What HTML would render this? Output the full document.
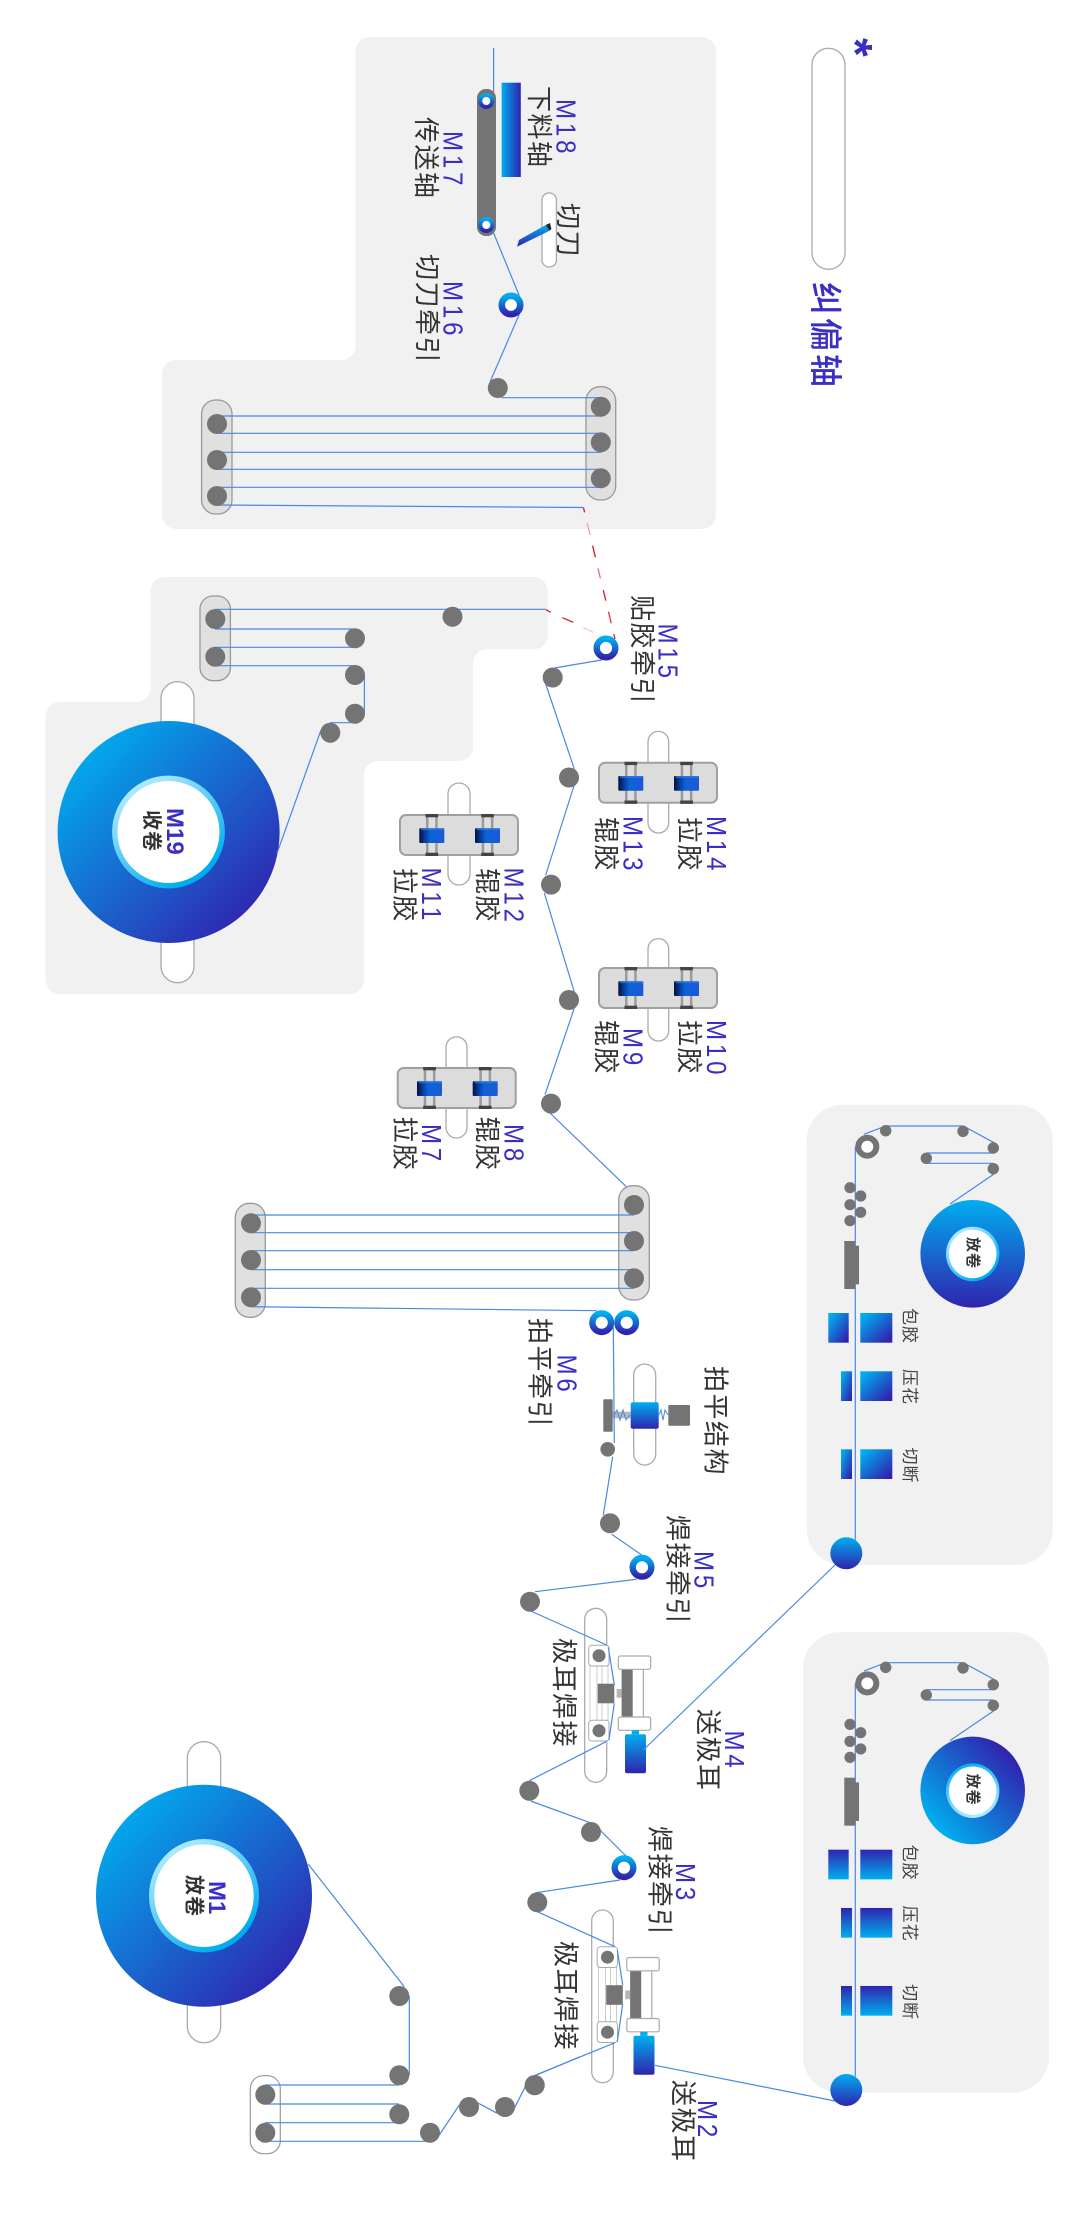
<!DOCTYPE html>
<html lang="zh"><head><meta charset="utf-8"><title>Process diagram</title>
<style>
html,body{margin:0;padding:0;background:#fff}
svg{display:block}
.m{font:28px "Liberation Sans","Noto Sans CJK SC",sans-serif;fill:#3a2ec4;letter-spacing:4.5px}
.c{font:26px "Liberation Sans","Noto Sans CJK SC",sans-serif;fill:#333;letter-spacing:1.5px}
.s{font:17px "Liberation Sans","Noto Sans CJK SC",sans-serif;fill:#444;letter-spacing:1px}
.b{font:bold 20px "Liberation Sans","Noto Sans CJK SC",sans-serif;fill:#333;letter-spacing:1px}
.bm{font:bold 24px "Liberation Sans","Noto Sans CJK SC",sans-serif;fill:#3a2ec4}
.t{font:bold 15px "Liberation Sans","Noto Sans CJK SC",sans-serif;fill:#333;letter-spacing:1px}
.ln{fill:none;stroke:#4a88e3;stroke-width:1.2}
.pl{fill:#fff;stroke:#aaa;stroke-width:1.3}
.gp{fill:#e0e0e0;stroke:#999;stroke-width:1.3}
.r{fill:#747474}
</style></head><body>
<svg xmlns="http://www.w3.org/2000/svg" width="1080" height="2216" viewBox="0 0 1080 2216">
<defs>
<linearGradient id="gd" x1="0.1" y1="0.1" x2="0.9" y2="0.9"><stop offset="0" stop-color="#00aeef"/><stop offset="1" stop-color="#3023ae"/></linearGradient>
<linearGradient id="gv" x1="0" y1="0" x2="0" y2="1"><stop offset="0" stop-color="#00aeef"/><stop offset="1" stop-color="#3023ae"/></linearGradient>
<linearGradient id="gf" x1="0" y1="0" x2="0" y2="1"><stop offset="0" stop-color="#3023ae"/><stop offset="1" stop-color="#00aeef"/></linearGradient>
<linearGradient id="gh" x1="0" y1="0" x2="1" y2="0"><stop offset="0" stop-color="#00aeef"/><stop offset="1" stop-color="#3023ae"/></linearGradient>
<linearGradient id="gb" x1="0.15" y1="0.85" x2="0.85" y2="0.15"><stop offset="0" stop-color="#00aeef"/><stop offset="1" stop-color="#3023ae"/></linearGradient>
<linearGradient id="ri" x1="0.15" y1="0.1" x2="0.7" y2="0.9"><stop offset="0" stop-color="#b4ecff"/><stop offset="1" stop-color="#00aeef"/></linearGradient>
<linearGradient id="rf" x1="0.3" y1="0" x2="0.6" y2="1"><stop offset="0" stop-color="#00aeef"/><stop offset="1" stop-color="#b4ecff"/></linearGradient>
<linearGradient id="gx" x1="0" y1="0" x2="1" y2="0"><stop offset="0" stop-color="#02123f"/><stop offset=".3" stop-color="#0a48b4"/><stop offset=".45" stop-color="#0d62d8"/><stop offset="1" stop-color="#1c58d4"/></linearGradient>
<g id="rm">
<rect x="1" y="1" width="118" height="40" rx="6" fill="#dcdcdc" stroke="#a0a0a0" stroke-width="2"/>
<g id="sc"><rect x="27" y="0" width="11.700" height="42" fill="#9a9a9a"/><rect x="29.500" y="0" width="6.700" height="42" fill="#dedede"/><rect x="26.500" y="0" width="12.700" height="3.300" fill="#444"/><rect x="26.500" y="38.700" width="12.700" height="3.300" fill="#444"/><rect x="20.300" y="14.200" width="25" height="14.800" rx="1" fill="url(#gx)"/><rect x="22" y="14.200" width="23.300" height="2" fill="#2f7fe6" opacity=".7"/></g>
<use href="#sc" x="55.700"/>
</g>
<g id="wu">
<rect x="590" y="1660" width="18" height="65" fill="#fff" stroke="#ccc" stroke-width="1"/>
<line x1="597" y1="1660" x2="597" y2="1725" stroke="#ccc"/><line x1="602" y1="1660" x2="602" y2="1725" stroke="#ccc"/>
<rect x="588.700" y="1645.300" width="20.300" height="20.700" rx="3" fill="#fff" stroke="#aaa"/>
<rect x="588.700" y="1720.300" width="20.300" height="20.700" rx="3" fill="#fff" stroke="#aaa"/>
<circle class="r" cx="599" cy="1655.700" r="6.500"/><circle class="r" cx="599" cy="1730.700" r="6.500"/>
<rect class="r" x="597.700" y="1683.700" width="16.600" height="19.600"/>
<rect x="616.700" y="1689" width="5.300" height="8.700" fill="#b5b5b5"/>
<rect x="622" y="1669" width="21.300" height="48" fill="#fff" stroke="#999" stroke-width="1"/>
<rect class="r" x="622" y="1669" width="10.700" height="48"/>
<rect x="618.300" y="1656" width="32.400" height="13.300" rx="2" fill="#fff" stroke="#aaa" stroke-width="1.200"/>
<rect x="618.300" y="1717" width="32.400" height="13.300" rx="2" fill="#fff" stroke="#aaa" stroke-width="1.200"/>
<rect x="631.700" y="1730.300" width="7.300" height="4" fill="#00aeef"/>
<rect x="625" y="1734.300" width="21" height="39" rx="2" fill="url(#gv)"/>
</g>
<g id="feed">
<line class="ln" x1="855.300" y1="1146.700" x2="855.300" y2="1540"/>
<circle cx="867.300" cy="1146.700" r="9" fill="#fff" stroke="#747474" stroke-width="6"/>
<polyline class="ln" points="864,1134.300 885.700,1126 963.300,1126 994,1142.700"/>
<polyline class="ln" points="993,1153 926.300,1153"/><polyline class="ln" points="926.300,1163.300 993,1163.300"/>
<line class="ln" x1="994" y1="1174" x2="950" y2="1204"/>
<g class="r"><circle cx="885.700" cy="1130.700" r="5.700"/><circle cx="963" cy="1131.300" r="5.700"/><circle cx="993.300" cy="1148" r="5.700"/><circle cx="926.300" cy="1158.300" r="5.700"/><circle cx="993.300" cy="1168.700" r="5.700"/>
<circle cx="850" cy="1187.700" r="5.600"/><circle cx="850" cy="1204.700" r="5.600"/><circle cx="850" cy="1220.700" r="5.600"/><circle cx="860.700" cy="1196" r="5.600"/><circle cx="860.700" cy="1212.300" r="5.600"/>
<rect x="844.300" y="1241" width="10.700" height="48"/><rect x="855" y="1245.700" width="4" height="38.600"/></g>
<text class="s" transform="translate(904,1308) rotate(90)">包胶</text>
<text class="s" transform="translate(904,1369) rotate(90)">压花</text>
<text class="s" transform="translate(904,1447.500) rotate(90)">切断</text>
</g>
</defs>

<!-- panels -->
<path fill="#f1f1f2" d="M370,37H702a14,14 0 0 1 14,14V515a14,14 0 0 1 -14,14H176a14,14 0 0 1 -14,-14V374a14,14 0 0 1 14,-14H341a14,14 0 0 0 14.500,-14V51a14,14 0 0 1 14.500,-14Z"/>
<path fill="#f1f1f2" d="M165,577H533a14,14 0 0 1 14.600,14V635a14,14 0 0 1 -14.600,14.300H487a14,14 0 0 0 -14,14V747a14,14 0 0 1 -14,14H378a14,14 0 0 0 -14,14V980a14,14 0 0 1 -14,14H60a14,14 0 0 1 -14.500,-14V716a14,14 0 0 1 14.500,-14H136a14,14 0 0 0 14.500,-14V591a14,14 0 0 1 14.500,-14Z"/>
<rect x="806.700" y="1104.700" width="246" height="460.300" rx="36" fill="#f1f1f2"/>
<rect x="803" y="1632.300" width="246" height="460.300" rx="36" fill="#f1f1f2"/>

<!-- correction axis -->
<rect class="pl" x="812" y="48.300" width="33" height="221" rx="16.500"/>
<text transform="translate(839,38) rotate(90)" fill="#3a2ec4" style="font:bold 48px 'Liberation Sans',sans-serif">*</text>
<text transform="translate(814,282) rotate(90)" style="font:500 33px 'Liberation Sans','Noto Sans CJK SC',sans-serif;letter-spacing:3px" fill="#3a2ec4">纠偏轴</text>

<!-- top group -->
<rect x="501.600" y="82.700" width="19.200" height="94.300" fill="url(#gh)"/>
<line class="ln" x1="493.600" y1="48" x2="493.600" y2="92"/>
<rect class="r" x="477" y="89" width="19" height="147" rx="9"/>
<circle cx="486.300" cy="101" r="6" fill="#fff" stroke="url(#gv)" stroke-width="4"/>
<circle cx="486.300" cy="225" r="6" fill="#fff" stroke="url(#gv)" stroke-width="4"/>
<rect class="pl" x="542" y="193" width="14.400" height="74" rx="7"/>
<polygon points="519,240 545.700,225 549.500,230.700 517,246.700" fill="url(#gv)"/>
<polygon points="545.700,225 550,223 551.400,229 549.500,230.700" fill="#222"/>
<polyline class="ln" points="493.600,233 519,295 519,315 490,382"/>
<circle cx="511" cy="305" r="9.200" fill="#fff" stroke="url(#gv)" stroke-width="6.600"/>
<rect class="gp" x="586" y="386.700" width="29.700" height="113.300" rx="14"/>
<rect class="gp" x="201.600" y="400" width="30.400" height="114" rx="14"/>
<polyline class="ln" points="501.700,397.700 601,397.700"/>
<g class="ln"><line x1="217" y1="416" x2="601" y2="416"/><line x1="217" y1="433.300" x2="601" y2="433.300"/><line x1="217" y1="452.300" x2="601" y2="452.300"/><line x1="217" y1="469.300" x2="601" y2="469.300"/><line x1="217" y1="487.300" x2="601" y2="487.300"/><line x1="217" y1="505" x2="583.500" y2="507.500"/></g>
<g class="r"><circle cx="497.800" cy="388" r="10"/><circle cx="600.800" cy="406.700" r="10"/><circle cx="600.800" cy="442.300" r="10"/><circle cx="600.800" cy="478.300" r="10"/><circle cx="217" cy="424" r="10"/><circle cx="217" cy="460" r="10"/><circle cx="217" cy="496" r="10"/></g>
<text class="m" transform="translate(556.500,99) rotate(90) scale(.86,1)">M18</text>
<text class="c" transform="translate(530,86) rotate(90)">下料轴</text>
<text class="m" transform="translate(443.500,131) rotate(90) scale(.86,1)">M17</text>
<text class="c" transform="translate(417,117) rotate(90)">传送轴</text>
<text class="c" transform="translate(559,203) rotate(90)">切刀</text>
<text class="m" transform="translate(443.500,281) rotate(90) scale(.86,1)">M16</text>
<text class="c" transform="translate(418,254) rotate(90)">切刀牵引</text>

<!-- red dashes -->
<g stroke-width="1.300" fill="none">
<line x1="583.500" y1="507.700" x2="584.600" y2="512.300" stroke="#e8112d"/>
<line x1="587.200" y1="523.300" x2="590.100" y2="535" stroke="#f4a0ae"/>
<line x1="592.600" y1="545.700" x2="595.400" y2="557.300" stroke="#e8112d"/>
<line x1="598" y1="568.300" x2="600.400" y2="578.300" stroke="#f06a80"/>
<line x1="603.300" y1="590" x2="605.800" y2="600.700" stroke="#e8112d"/>
<line x1="608.500" y1="611.700" x2="611.200" y2="623.300" stroke="#e8324a"/>
<line x1="613.800" y1="634" x2="615" y2="639" stroke="#e8112d"/>
<line x1="546" y1="609.700" x2="550.700" y2="612.300" stroke="#e8112d"/>
<line x1="562.300" y1="617.700" x2="573.300" y2="622.300" stroke="#e8112d"/>
<line x1="583.300" y1="627.700" x2="593.300" y2="632.300" stroke="#f8c4cc"/>
</g>

<!-- M19 group -->
<rect class="pl" x="161" y="681.700" width="33" height="301" rx="16.500"/>
<circle cx="168.600" cy="832" r="111" fill="url(#gd)"/>
<circle cx="168.500" cy="832" r="56.400" fill="url(#ri)"/>
<circle cx="168.500" cy="832" r="51" fill="#fff"/>
<text class="bm" transform="translate(167,808) rotate(90)">M19</text>
<text class="b" transform="translate(145,810) rotate(90)">收卷</text>
<rect class="gp" x="200" y="596" width="30.400" height="84.700" rx="13"/>
<g class="ln"><line x1="215" y1="609.300" x2="546" y2="609.300"/><line x1="215" y1="629" x2="355" y2="629"/><line x1="215" y1="647.300" x2="355" y2="647.300"/><line x1="215" y1="665.700" x2="355" y2="665.700"/><line x1="364.400" y1="675" x2="364.400" y2="713.700"/><line x1="355" y1="722.700" x2="330" y2="722.700"/><line x1="321" y1="730" x2="277" y2="853.300"/></g>
<g class="r"><circle cx="215.300" cy="619" r="10"/><circle cx="215.300" cy="656.700" r="10"/><circle cx="452.500" cy="616.700" r="10"/><circle cx="355" cy="638.300" r="10"/><circle cx="355" cy="675" r="10"/><circle cx="355" cy="713.700" r="10"/><circle cx="330.300" cy="732.700" r="10"/></g>

<!-- main zigzag -->
<polyline class="ln" points="601.700,660 555,667.900"/>
<polyline class="ln" points="545.700,684 574,768 574,785.700 545.700,875"/>
<polyline class="ln" points="544.300,893 574,991 574,1009 545,1094.600"/>
<line class="ln" x1="550" y1="1113" x2="636.700" y2="1196.700"/>
<circle cx="606" cy="648" r="9.300" fill="#fff" stroke="url(#gv)" stroke-width="6.400"/>
<g class="r"><circle cx="552.700" cy="677.500" r="10"/><circle cx="569" cy="777.500" r="10"/><circle cx="551" cy="884.600" r="10"/><circle cx="569" cy="1000" r="10"/><circle cx="551" cy="1103.600" r="10"/></g>
<text class="m" transform="translate(658.500,623.500) rotate(90) scale(.86,1)">M15</text>
<text class="c" transform="translate(633,595) rotate(90)">贴胶牵引</text>

<!-- roller modules -->
<rect class="pl" x="648" y="731.400" width="20.700" height="101.600" rx="10.300"/><use href="#rm" x="598" y="761.800"/>
<rect class="pl" x="648" y="938.600" width="20.700" height="102.400" rx="10.300"/><use href="#rm" x="598" y="967"/>
<rect class="pl" x="448" y="783" width="22" height="102" rx="11"/><use href="#rm" x="399" y="814"/>
<rect class="pl" x="446" y="1036.800" width="21" height="101.200" rx="10.500"/><use href="#rm" x="396.700" y="1067"/>
<text class="m" transform="translate(707,816) rotate(90) scale(.86,1)">M14</text><text class="c" transform="translate(680,817) rotate(90)">拉胶</text>
<text class="m" transform="translate(623.500,816) rotate(90) scale(.86,1)">M13</text><text class="c" transform="translate(597,817) rotate(90)">辊胶</text>
<text class="m" transform="translate(504.500,867.500) rotate(90) scale(.86,1)">M12</text><text class="c" transform="translate(478,868) rotate(90)">辊胶</text>
<text class="m" transform="translate(422,867.500) rotate(90) scale(.86,1)">M11</text><text class="c" transform="translate(395.500,868) rotate(90)">拉胶</text>
<text class="m" transform="translate(707,1020) rotate(90) scale(.86,1)">M10</text><text class="c" transform="translate(680,1020) rotate(90)">拉胶</text>
<text class="m" transform="translate(623.500,1028) rotate(90) scale(.86,1)">M9</text><text class="c" transform="translate(597,1020) rotate(90)">辊胶</text>
<text class="m" transform="translate(504.500,1124) rotate(90) scale(.86,1)">M8</text><text class="c" transform="translate(478,1116.500) rotate(90)">辊胶</text>
<text class="m" transform="translate(422,1124) rotate(90) scale(.86,1)">M7</text><text class="c" transform="translate(395.500,1116.500) rotate(90)">拉胶</text>

<!-- middle accumulator -->
<rect class="gp" x="618.700" y="1185.700" width="30.600" height="114.300" rx="14" stroke-width="2"/>
<rect class="gp" x="235.300" y="1203.300" width="30" height="114" rx="14"/>
<g class="ln"><line x1="251" y1="1215" x2="634" y2="1215"/><line x1="251" y1="1232.700" x2="634" y2="1232.700"/><line x1="251" y1="1250.700" x2="634" y2="1250.700"/><line x1="251" y1="1269.700" x2="634" y2="1269.700"/><line x1="251" y1="1288.300" x2="634" y2="1288.300"/><line x1="251" y1="1306.700" x2="596.700" y2="1310.700"/></g>
<g class="r"><circle cx="634" cy="1205" r="10"/><circle cx="634" cy="1241" r="10"/><circle cx="634" cy="1278.300" r="10"/><circle cx="251" cy="1223.300" r="10"/><circle cx="251" cy="1260" r="10"/><circle cx="251" cy="1297.300" r="10"/></g>
<circle cx="601.700" cy="1322.700" r="9.300" fill="#fff" stroke="url(#gv)" stroke-width="6.400"/>
<circle cx="626.700" cy="1322.700" r="9.300" fill="#fff" stroke="url(#gv)" stroke-width="6.400"/>
<text class="m" transform="translate(557.500,1354.500) rotate(90) scale(.86,1)">M6</text>
<text class="c" transform="translate(530.500,1318) rotate(90)">拍平牵引</text>

<!-- flatten -->
<rect class="pl" x="633.700" y="1364" width="22" height="101" rx="11"/>
<rect x="612.700" y="1411.700" width="18" height="6.600" fill="#b8b8b8"/>
<polyline points="614,1415 617,1410 620,1420 623,1410 626,1420 630,1415" fill="none" stroke="#4a88e3" stroke-width="1"/>
<polyline points="659,1415 661,1410 663,1420 665,1410 668,1415" fill="none" stroke="#4a88e3" stroke-width="1"/>
<rect class="r" x="603.300" y="1399.300" width="9.400" height="32.400" rx="1"/>
<rect x="630.700" y="1402.300" width="28" height="26.400" rx="2" fill="url(#gv)"/>
<rect class="r" x="668.300" y="1405" width="21.700" height="20.700" rx="1"/>
<polyline class="ln" points="613.300,1326.700 614.300,1443"/>
<polyline class="ln" points="612.700,1456.700 603.300,1515"/>
<polyline class="ln" points="611.700,1534.300 641.700,1555"/>
<polyline class="ln" points="636.700,1579.300 535,1591.700"/>
<circle class="r" cx="607.700" cy="1449.300" r="7.300"/>
<circle class="r" cx="610" cy="1523.300" r="10"/>
<circle cx="642" cy="1567.300" r="9.300" fill="#fff" stroke="url(#gv)" stroke-width="6.400"/>
<text class="c" transform="translate(706.500,1366) rotate(90)">拍平结构</text>
<text class="m" transform="translate(694.500,1551) rotate(90) scale(.86,1)">M5</text>
<text class="c" transform="translate(668.700,1515) rotate(90)">焊接牵引</text>

<!-- weld unit 1 -->
<rect class="pl" x="584.700" y="1608.300" width="22" height="174" rx="11"/>
<use href="#wu"/>
<polyline class="ln" points="530.700,1611 606.700,1645"/>
<polyline class="ln" points="608.300,1647.300 614.300,1685"/>
<polyline class="ln" points="614.300,1703.300 609,1740"/>
<polyline class="ln" points="606,1741.700 529.300,1780.700"/>
<circle class="r" cx="530" cy="1601.700" r="10"/><circle class="r" cx="529.300" cy="1790.700" r="10"/>
<line class="ln" x1="643.300" y1="1750" x2="835" y2="1565"/>
<text class="c" transform="translate(555,1638) rotate(90)">极耳焊接</text>
<text class="m" transform="translate(725,1730.500) rotate(90) scale(.86,1)">M4</text>
<text class="c" transform="translate(699,1709) rotate(90)">送极耳</text>

<!-- weld unit 2 -->
<rect class="pl" x="591.700" y="1910" width="21.600" height="172.700" rx="10.800"/>
<use href="#wu" x="8.500" y="301.500"/>
<polyline class="ln" points="530.700,1801 590,1822.700"/>
<polyline class="ln" points="600,1830 626,1856"/>
<polyline class="ln" points="620,1880 536,1892.700"/>
<polyline class="ln" points="537.300,1911.700 615,1946.700"/>
<polyline class="ln" points="617.300,1950 622.700,1985"/>
<polyline class="ln" points="622.700,2004 617.300,2041.700"/>
<polyline class="ln" points="615,2042.700 535,2075.300"/>
<circle class="r" cx="591" cy="1832" r="10"/><circle class="r" cx="537.300" cy="1902.300" r="10"/><circle class="r" cx="534.700" cy="2085" r="10"/>
<circle cx="624" cy="1867.700" r="9.300" fill="#fff" stroke="url(#gv)" stroke-width="6.400"/>
<line class="ln" x1="655" y1="2065.300" x2="835" y2="2101"/>
<text class="c" transform="translate(650.500,1826) rotate(90)">焊接牵引</text>
<text class="m" transform="translate(676,1863) rotate(90) scale(.86,1)">M3</text>
<text class="c" transform="translate(556.500,1941) rotate(90)">极耳焊接</text>
<text class="m" transform="translate(698,2100) rotate(90) scale(.86,1)">M2</text>
<text class="c" transform="translate(674,2080) rotate(90)">送极耳</text>

<!-- M1 group -->
<rect class="pl" x="187.300" y="1741.700" width="33.400" height="301" rx="16.500"/>
<ellipse cx="204" cy="1895.800" rx="108" ry="111" fill="url(#gd)"/>
<ellipse cx="204" cy="1895.700" rx="55" ry="56.700" fill="url(#ri)"/>
<ellipse cx="204" cy="1895.700" rx="49.700" ry="51.300" fill="#fff"/>
<text class="bm" transform="translate(209,1881) rotate(90)">M1</text>
<text class="b" transform="translate(187.500,1875) rotate(90)">放卷</text>
<rect x="250.300" y="2075.700" width="30" height="78" rx="13" fill="none" stroke="#999" stroke-width="1.200"/>
<g class="ln"><line x1="308.300" y1="1864.300" x2="404.300" y2="1986.700"/><line x1="409.300" y1="1996" x2="409.300" y2="2075"/><line x1="265" y1="2085" x2="399" y2="2085"/><line x1="265" y1="2104" x2="399" y2="2104"/><line x1="265" y1="2122.700" x2="399" y2="2122.700"/><line x1="265" y1="2141.300" x2="430" y2="2141.300"/><line x1="439.300" y1="2135" x2="459.300" y2="2105"/><line x1="477.300" y1="2102.700" x2="497.300" y2="2113.300"/><line x1="514.300" y1="2108.300" x2="525.300" y2="2086.700"/><line x1="536.700" y1="2075" x2="580" y2="2056.700"/></g>
<g class="r"><circle cx="399.300" cy="1996" r="10"/><circle cx="399.300" cy="2075.300" r="10"/><circle cx="399.300" cy="2114.300" r="10"/><circle cx="265.300" cy="2094.700" r="10"/><circle cx="265.300" cy="2132.700" r="10"/><circle cx="430" cy="2132.700" r="10"/><circle cx="469" cy="2107" r="10"/><circle cx="505" cy="2107" r="10"/><circle cx="534.700" cy="2085.300" r="10"/></g>

<!-- feed panel 1 -->
<use href="#feed"/>
<ellipse cx="972.700" cy="1253.800" rx="52.300" ry="53.800" fill="url(#gv)"/>
<ellipse cx="972.700" cy="1254" rx="26.700" ry="27.300" fill="url(#ri)"/>
<ellipse cx="972.700" cy="1254" rx="23.800" ry="24.200" fill="#fff"/>
<text class="t" transform="translate(968,1237) rotate(90)">放卷</text>
<g fill="url(#gd)"><rect x="828.300" y="1313" width="20.400" height="29.700"/><rect x="860.300" y="1313" width="32" height="29.700"/><rect x="841" y="1371.300" width="11" height="29.700"/><rect x="860.300" y="1371.300" width="32" height="29.700"/><rect x="841" y="1449.300" width="11" height="29.700"/><rect x="860.300" y="1449.300" width="32" height="29.700"/></g>
<circle cx="846.300" cy="1553.300" r="16" fill="url(#gv)"/>

<!-- feed panel 2 -->
<g transform="translate(0,536.670)"><use href="#feed"/>
<ellipse cx="972.700" cy="1253.800" rx="52.300" ry="53.800" fill="url(#gb)"/>
<ellipse cx="972.700" cy="1254" rx="26.700" ry="27.300" fill="url(#rf)"/>
<ellipse cx="972.700" cy="1254" rx="23.800" ry="24.200" fill="#fff"/>
<text class="t" transform="translate(968,1237) rotate(90)">放卷</text>
<g fill="url(#gf)"><rect x="828.300" y="1313" width="20.400" height="29.700"/><rect x="860.300" y="1313" width="32" height="29.700"/><rect x="841" y="1371.300" width="11" height="29.700"/><rect x="860.300" y="1371.300" width="32" height="29.700"/><rect x="841" y="1449.300" width="11" height="29.700"/><rect x="860.300" y="1449.300" width="32" height="29.700"/></g>
<circle cx="846.300" cy="1553.300" r="16" fill="url(#gv)"/>
</g>
</svg>
</body></html>
